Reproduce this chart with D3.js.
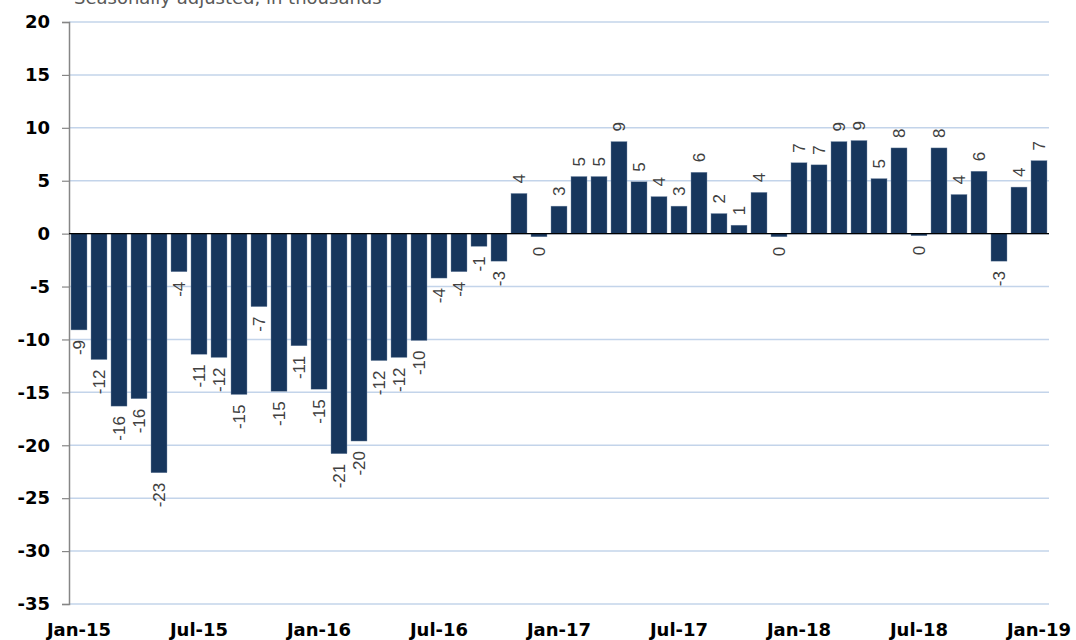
<!DOCTYPE html>
<html>
<head>
<meta charset="utf-8">
<script src="https://cdn.jsdelivr.net/npm/d3@7"></script>
<style>
  body { margin: 0; background: #fff; }
  svg { display: block; font-family: "DejaVu Sans", Verdana, sans-serif; }
</style>
</head>
<body>
<div id="chart"></div>
<script>
// monthly change, seasonally adjusted, in thousands
var months = ['Jan-15', 'Feb-15', 'Mar-15', 'Apr-15', 'May-15', 'Jun-15', 'Jul-15', 'Aug-15', 'Sep-15', 'Oct-15', 'Nov-15', 'Dec-15',
  'Jan-16', 'Feb-16', 'Mar-16', 'Apr-16', 'May-16', 'Jun-16', 'Jul-16', 'Aug-16', 'Sep-16', 'Oct-16', 'Nov-16', 'Dec-16',
  'Jan-17', 'Feb-17', 'Mar-17', 'Apr-17', 'May-17', 'Jun-17', 'Jul-17', 'Aug-17', 'Sep-17', 'Oct-17', 'Nov-17', 'Dec-17',
  'Jan-18', 'Feb-18', 'Mar-18', 'Apr-18', 'May-18', 'Jun-18', 'Jul-18', 'Aug-18', 'Sep-18', 'Oct-18', 'Nov-18', 'Dec-18',
  'Jan-19']
var values = [-9.1, -11.9, -16.3, -15.6, -22.6, -3.6, -11.4, -11.7, -15.2, -6.9, -14.9, -10.6,
  -14.7, -20.8, -19.6, -12.0, -11.7, -10.1, -4.2, -3.6, -1.2, -2.6, 3.8, -0.3,
  2.6, 5.4, 5.4, 8.7, 4.9, 3.5, 2.6, 5.8, 1.9, 0.8, 3.9, -0.3,
  6.7, 6.5, 8.7, 8.8, 5.2, 8.1, -0.2, 8.1, 3.7, 5.9, -2.6, 4.4,
  6.9]
var yTicks = [20, 15, 10, 5, 0, -5, -10, -15, -20, -25, -30, -35]
var xTickLabels = ['Jan-15', 'Jul-15', 'Jan-16', 'Jul-16', 'Jan-17', 'Jul-17', 'Jan-18', 'Jul-18', 'Jan-19']
var subtitle = 'Seasonally adjusted, in thousands'

var width = 1076
var height = 640
var margin = { top: 22, left: 69, right: 27, bottom: 36 }

var svg = d3.select('#chart').append('svg')
  .attr('width', width)
  .attr('height', height)

var x = d3.scaleBand()
  .domain(months)
  .range([margin.left, width - margin.right])
  .paddingInner(0.2)
  .paddingOuter(0.1)
var y = d3.scaleLinear()
  .domain([-35, 20])
  .range([height - margin.bottom, margin.top])

// 网格线
svg.append('g')
  .selectAll('line')
  .data(yTicks)
  .enter()
  .append('line')
  .attr('x1', margin.left)
  .attr('x2', width - margin.right)
  .attr('y1', function (d) { return y(d) })
  .attr('y2', function (d) { return y(d) })
  .attr('stroke', '#c3d4ea')
  .attr('stroke-width', 1.5)

// y axis
var yAxis = svg.append('g')
  .attr('transform', 'translate(' + margin.left + ',0)')
  .call(d3.axisLeft(y).tickValues(yTicks).tickSize(7).tickPadding(12).tickFormat(d3.format('d')))
yAxis.select('.domain').attr('stroke', '#868686').attr('stroke-width', 1.5)
yAxis.selectAll('.tick line').attr('stroke', '#868686').attr('stroke-width', 1.2)
yAxis.selectAll('.tick text')
  .attr('font-family', '"DejaVu Sans", Verdana, sans-serif')
  .attr('font-size', 18)
  .attr('font-weight', 'bold')
  .attr('fill', '#000')
  .text(function (d) { return String(d) })

// bars
svg.append('g')
  .selectAll('rect')
  .data(values)
  .enter()
  .append('rect')
  .attr('x', function (d, i) { return x(months[i]) })
  .attr('y', function (d) { return y(Math.max(0, d)) })
  .attr('width', x.bandwidth())
  .attr('height', function (d) { return Math.abs(y(d) - y(0)) })
  .attr('fill', '#17365d')
  .attr('stroke', '#7f93ad')
  .attr('stroke-width', 0.4)

// zero line
svg.append('line')
  .attr('x1', margin.left)
  .attr('x2', width - margin.right)
  .attr('y1', y(0))
  .attr('y2', y(0))
  .attr('stroke', '#000')
  .attr('stroke-width', 1.2)

// value labels, rotated to read bottom-to-top
svg.append('g')
  .selectAll('text')
  .data(values)
  .enter()
  .append('text')
  .attr('transform', function (d, i) {
    var cx = x(months[i]) + x.bandwidth() / 2
    var cy = d >= 0 ? y(d) - 10 : y(d) + 10
    return 'translate(' + cx + ',' + cy + ') rotate(-90)'
  })
  .attr('text-anchor', function (d) { return d >= 0 ? 'start' : 'end' })
  .attr('dy', '0.35em')
  .attr('font-family', '"Liberation Sans", Arial, sans-serif')
  .attr('font-size', 17)
  .attr('fill', '#404040')
  .text(function (d) { return String(Math.round(d)) })

// x labels, centred on their month's bar
svg.append('g')
  .selectAll('text')
  .data(xTickLabels)
  .enter()
  .append('text')
  .attr('x', function (d) { return x(d) + x.bandwidth() / 2 })
  .attr('y', 636)
  .attr('text-anchor', 'middle')
  .attr('font-size', 18)
  .attr('font-weight', 'bold')
  .attr('fill', '#000')
  .text(function (d) { return d })

// subtitle (cut at the top edge)
svg.append('text')
  .attr('x', 74)
  .attr('y', 4)
  .attr('font-size', 18)
  .attr('fill', '#595959')
  .text(subtitle)
</script>
</body>
</html>
